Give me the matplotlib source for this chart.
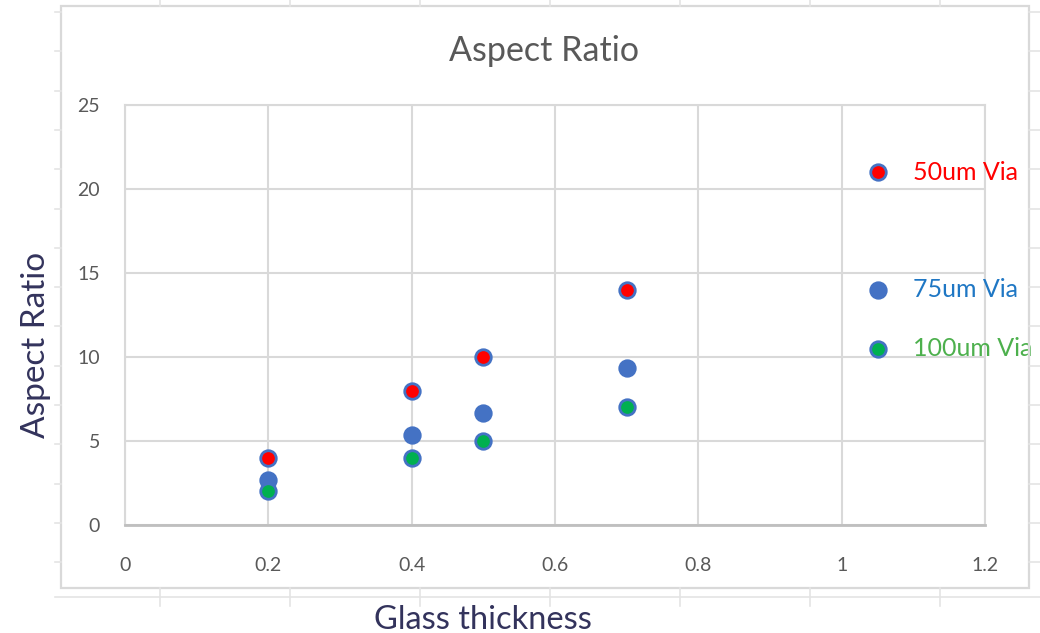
import numpy as np
import matplotlib.pyplot as plt
from matplotlib.patches import Rectangle
from matplotlib.lines import Line2D

plt.rcParams['font.family'] = ['Lato', 'DejaVu Sans']

# glass thickness (mm) and aspect ratio for each via size
thickness = [0.2, 0.4, 0.5, 0.7]
ar_50 = [4, 8, 10, 14]
ar_75 = [2.67, 5.33, 6.67, 9.33]
ar_100 = [2, 4, 5, 7]

# key markers drawn next to the labels on the right
key_x = 1.05
key_y = [21, 14, 10.5]
key_labels = ['50um Via', '75um Via', '100um Via']

fill_colors = ['#FF0000', '#4472C4', '#00B050']
text_colors = ['#FF0000', '#1F77C4', '#4DB04D']
edge = '#4472C4'

W, H = 1040, 633
fig = plt.figure(figsize=(W / 100, H / 100), dpi=100)

def px(x, y):
    # pixel position (from top-left) to figure fraction
    return x / W, 1 - y / H

# faint spreadsheet cells behind the chart
sheet = '#E4E4E4'
fig.add_artist(Line2D([55 / W, 1], [1 - 597 / H] * 2, color=sheet, lw=1.2))
for xc in [160, 290, 420, 550, 680, 810, 940]:
    fig.add_artist(Line2D([xc / W] * 2, [1, 1 - 6 / H], color=sheet, lw=1.2))
    fig.add_artist(Line2D([xc / W] * 2, [1 - 588 / H, 1 - 606 / H], color=sheet, lw=1.2))
for yr in np.arange(12, 590, 39.3):
    fig.add_artist(Line2D([55 / W, 61 / W], [1 - yr / H] * 2, color=sheet, lw=1.2))
    fig.add_artist(Line2D([1029 / W, 1], [1 - yr / H] * 2, color=sheet, lw=1.2))

# chart frame
fig.add_artist(Rectangle(px(61, 588), (1029 - 61) / W, (588 - 6) / H,
                         fill=False, ec='#D9D9D9', lw=1.6))

ax = fig.add_axes([125 / W, 108 / H, 860 / W, 420 / H])
ax.set_xlim(0, 1.2)
ax.set_ylim(0, 25)
ax.set_xticks(np.arange(0, 1.21, 0.2))
ax.set_xticklabels(['0', '0.2', '0.4', '0.6', '0.8', '1', '1.2'])
ax.set_yticks([0, 5, 10, 15, 20, 25])
ax.grid(True, color='#D9D9D9', lw=1.5)
ax.set_axisbelow(True)
for s in ['top', 'right', 'left']:
    ax.spines[s].set_color('#D9D9D9')
    ax.spines[s].set_linewidth(1.5)
ax.spines['bottom'].set_color('#BFBFBF')
ax.spines['bottom'].set_linewidth(2)
ax.tick_params(length=0, labelsize=14, labelcolor='#595959')
ax.tick_params(axis='x', pad=23)
ax.tick_params(axis='y', pad=18)

for ys, c in zip([ar_50, ar_75, ar_100], fill_colors):
    ax.scatter(thickness, ys, s=125, c=c, edgecolors=edge, linewidths=2, zorder=3)

for yk, c, tc, lab in zip(key_y, fill_colors, text_colors, key_labels):
    ax.scatter([key_x], [yk], s=125, c=c, edgecolors=edge, linewidths=2, zorder=3)
    ax.text(1.1, yk, lab, color=tc, fontsize=18, va='center', ha='left',
            clip_on=False)

fig.text(*px(544, 51), 'Aspect Ratio', fontsize=24.5, color='#595959',
         ha='center', va='center')
fig.text(*px(483, 620), 'Glass thickness', fontsize=23.5, color='#33335C',
         ha='center', va='center')
fig.text(*px(36, 345), 'Aspect Ratio', fontsize=24, color='#33335C',
         ha='center', va='center', rotation=90)

fig.savefig('out.png', dpi=100, facecolor='white')
